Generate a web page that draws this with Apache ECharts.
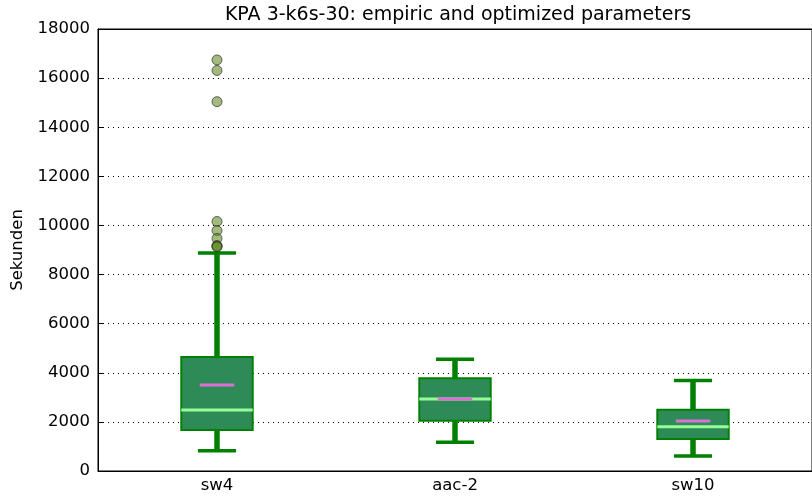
<!DOCTYPE html>
<html><head><meta charset="utf-8">
<script src="https://cdn.jsdelivr.net/npm/echarts@6/dist/echarts.min.js"></script>
<style>html,body{margin:0;padding:0;background:#fff}#c{width:812px;height:498px}</style>
</head><body><div id="c"></div>
<script>
var categories = ['sw4', 'aac-2', 'sw10'];
var whiskerLow = [820, 1170, 610];
var q1 = [1670, 2050, 1300];
var median = [2480, 2930, 1800];
var q3 = [4640, 3780, 2490];
var whiskerHigh = [8880, 4550, 3690];
var means = [3500, 2935, 2040];
var outliers = [
  [0, 16740], [0, 16310], [0, 15040], [0, 10160], [0, 9790], [0, 9470], [0, 9180], [0, 9150], [0, 9130]
];
var yTicks = [0, 2000, 4000, 6000, 8000, 10000, 12000, 14000, 16000, 18000];

var boxData = categories.map(function (c, i) {
  return [i, whiskerLow[i], q1[i], median[i], q3[i], whiskerHigh[i], means[i]];
});

var chart = echarts.init(document.getElementById('c'), null, {renderer: 'canvas'});
var font = 'DejaVu Sans';
chart.setOption({
  animation: false,
  title: {
    text: 'KPA 3-k6s-30: empiric and optimized parameters',
    left: 453, top: 1, textAlign: 'center',
    textStyle: {fontFamily: font, fontSize: 19, fontWeight: 'normal', color: '#000'}
  },
  grid: {left: 98, top: 29, right: -6, bottom: 27, show: true, borderColor: '#000', borderWidth: 1},
  xAxis: [{
    type: 'category', data: categories,
    axisLine: {lineStyle: {color: '#000'}},
    axisTick: {inside: true, alignWithLabel: true, length: 6, lineStyle: {color: '#000'}},
    axisLabel: {fontFamily: font, fontSize: 16.5, color: '#000', margin: 6},
    splitLine: {show: false}
  }, {
    type: 'category', data: categories, position: 'top',
    axisLine: {lineStyle: {color: '#000'}},
    axisTick: {inside: true, alignWithLabel: true, length: 6, lineStyle: {color: '#000'}},
    axisLabel: {show: false}
  }],
  yAxis: [{
    type: 'value', min: 0, max: 18000, interval: 2000,
    name: 'Sekunden', nameLocation: 'middle', nameGap: 71, nameRotate: 90,
    nameTextStyle: {fontFamily: font, fontSize: 16.5, color: '#000'},
    axisLine: {show: true, lineStyle: {color: '#000'}},
    axisTick: {show: true, inside: true, length: 6, lineStyle: {color: '#000'}},
    axisLabel: {fontFamily: font, fontSize: 16.5, color: '#000', margin: 8,
      formatter: function (v) { return yTicks.indexOf(v) >= 0 ? String(v) : ''; }},
    splitLine: {show: true, lineStyle: {color: '#000', type: [1, 4], width: 1}}
  }],
  series: [{
    type: 'custom',
    xAxisIndex: 0,
    data: boxData,
    z: 3,
    renderItem: function (params, api) {
      var x = api.value(0);
      var p = function (v) { return api.coord([x, v]); };
      var cx = p(0)[0];
      var bandW = api.size([1, 0])[0];
      var boxW = bandW * 0.3;
      var capW = bandW * 0.16;
      var meanW = bandW * 0.145;
      var yLow = p(api.value(1))[1], yQ1 = p(api.value(2))[1], yMed = p(api.value(3))[1];
      var yQ3 = p(api.value(4))[1], yHigh = p(api.value(5))[1], yMean = p(api.value(6))[1];
      var green = '#008000';
      return {
        type: 'group',
        children: [
          {type: 'line', shape: {x1: cx, y1: yQ3, x2: cx, y2: yHigh}, style: {stroke: green, lineWidth: 5.5}},
          {type: 'line', shape: {x1: cx, y1: yQ1, x2: cx, y2: yLow}, style: {stroke: green, lineWidth: 5.5}},
          {type: 'line', shape: {x1: cx - capW / 2, y1: yHigh, x2: cx + capW / 2, y2: yHigh}, style: {stroke: green, lineWidth: 3.5}},
          {type: 'line', shape: {x1: cx - capW / 2, y1: yLow, x2: cx + capW / 2, y2: yLow}, style: {stroke: green, lineWidth: 3.5}},
          {type: 'rect', shape: {x: cx - boxW / 2, y: yQ3, width: boxW, height: yQ1 - yQ3},
            style: {fill: '#2e8b57', stroke: green, lineWidth: 2}},
          {type: 'line', shape: {x1: cx - boxW / 2, y1: yMed, x2: cx + boxW / 2, y2: yMed}, style: {stroke: '#98fb98', lineWidth: 3}},
          {type: 'line', shape: {x1: cx - meanW / 2, y1: yMean, x2: cx + meanW / 2, y2: yMean}, style: {stroke: '#da70d6', lineWidth: 3}}
        ]
      };
    }
  }, {
    type: 'scatter',
    xAxisIndex: 0,
    data: outliers,
    symbol: 'circle',
    symbolSize: 10,
    z: 4,
    itemStyle: {color: 'rgba(100,140,38,0.75)', borderColor: 'rgba(40,40,40,0.85)', borderWidth: 1}
  }]
});
</script></body></html>
